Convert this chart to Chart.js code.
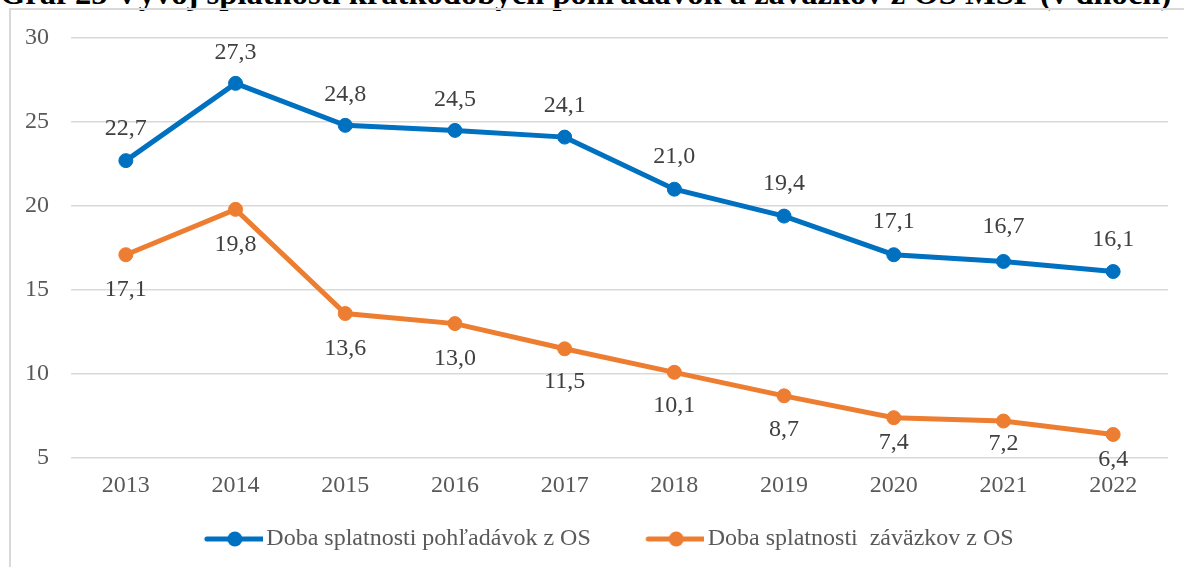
<!DOCTYPE html>
<html>
<head>
<meta charset="utf-8">
<script src="https://cdn.jsdelivr.net/npm/chart.js@4.4.0/dist/chart.umd.min.js"></script>
<style>
  html, body { margin: 0; padding: 0; background: #fff; overflow: hidden; }
  #wrap { position: relative; width: 1184px; height: 567px; overflow: hidden; }
  #title { position: absolute; left: 0; top: -23px; white-space: nowrap; font-family: 'Liberation Serif', serif; font-weight: bold; font-size: 29px; line-height: 1; color: #000; }
  #frame { position: absolute; left: 9px; top: 8px; width: 1400px; height: 800px; border-left: 2px solid #d9d9d9; border-top: 2px solid #d9d9d9; }
  canvas { position: absolute; left: 0; top: 0; }
</style>
</head>
<body>
<div id="wrap">
  <div id="title">Graf 25 Vývoj splatnosti krátkodobých pohľadávok a záväzkov z OS MSP (v dňoch)</div>
  <div id="frame"></div>
  <canvas id="c" width="1184" height="567"></canvas>
</div>
<script>
const years = ['2013','2014','2015','2016','2017','2018','2019','2020','2021','2022'];
const receivables = [22.7, 27.3, 24.8, 24.5, 24.1, 21.0, 19.4, 17.1, 16.7, 16.1];
const payables = [17.1, 19.8, 13.6, 13.0, 11.5, 10.1, 8.7, 7.4, 7.2, 6.4];
const seriesNames = ['Doba splatnosti pohľadávok z OS', 'Doba splatnosti  záväzkov z OS'];
const yTicks = [5, 10, 15, 20, 25, 30];

const BLUE = '#0070C0', ORANGE = '#ED7D31';
const FONT = "'Liberation Serif', serif";
const FS = 24;

// fit title width
(function(){
  const t = document.getElementById('title');
  const w = t.getBoundingClientRect().width;
  t.style.fontSize = (29 * 1172 / w) + 'px';
})();

function legendSymbol(color) {
  const c = document.createElement('canvas');
  c.width = 117; c.height = 18;
  const x = c.getContext('2d');
  x.strokeStyle = color; x.lineWidth = 5; x.lineCap = 'round';
  x.beginPath(); x.moveTo(61, 9); x.lineTo(117, 9); x.stroke();
  x.fillStyle = color;
  x.beginPath(); x.arc(89, 9, 7.5, 0, Math.PI * 2); x.fill();
  return c;
}
const legendImgs = [legendSymbol(BLUE), legendSymbol(ORANGE)];

// label placement (pixel offsets from the point; style, not data)
const labelStyle = {
  offsets: [
    [-32, -31, -31, -31, -31, -32, -32, -33, -35, -32],
    [35, 35, 35, 35, 33, 33, 34, 25, 23, 25]
  ]
};

const dataLabels = {
  id: 'dataLabels',
  afterDatasetsDraw(chart) {
    const ctx = chart.ctx;
    ctx.save();
    ctx.font = FS + 'px ' + FONT;
    ctx.fillStyle = '#404040';
    ctx.textAlign = 'center';
    ctx.textBaseline = 'middle';
    chart.data.datasets.forEach((ds, di) => {
      const meta = chart.getDatasetMeta(di);
      meta.data.forEach((pt, i) => {
        const txt = ds.data[i].toFixed(1).replace('.', ',');
        ctx.fillText(txt, pt.x, pt.y + labelStyle.offsets[di][i]);
      });
    });
    ctx.restore();
  }
};

new Chart(document.getElementById('c'), {
  type: 'line',
  data: {
    labels: years,
    datasets: [
      { label: seriesNames[0], data: receivables, borderColor: BLUE, backgroundColor: BLUE,
        borderWidth: 5, pointRadius: 7, pointBorderWidth: 1, pointHoverRadius: 7, tension: 0 },
      { label: seriesNames[1], data: payables, borderColor: ORANGE, backgroundColor: ORANGE,
        borderWidth: 5, pointRadius: 7, pointBorderWidth: 1, pointHoverRadius: 7, tension: 0 }
    ]
  },
  options: {
    responsive: false,
    animation: false,
    events: [],
    layout: { padding: { left: 0, right: 16, top: 38, bottom: 6 } },
    scales: {
      x: {
        offset: true,
        grid: { display: false, drawTicks: false },
        border: { display: false },
        ticks: { padding: 13, color: '#595959', font: { family: FONT, size: FS } },
        afterFit(s) { s.height = 64; }
      },
      y: {
        min: 5, max: 30,
        afterBuildTicks(s) { s.ticks = yTicks.map(v => ({ value: v })); },
        grid: { color: '#d9d9d9', lineWidth: 1.5, drawTicks: false },
        border: { display: false },
        ticks: { padding: 22, color: '#595959', font: { family: FONT, size: FS } },
        afterFit(s) { s.width = 71; }
      }
    },
    plugins: {
      tooltip: { enabled: false },
      legend: {
        position: 'bottom',
        labels: {
          usePointStyle: true,
          pointStyleWidth: 100,
          padding: 5,
          color: '#595959',
          font: { family: FONT, size: FS },
          generateLabels(chart) {
            return Chart.defaults.plugins.legend.labels.generateLabels(chart).map((l, i) => Object.assign(l, { pointStyle: legendImgs[i] }));
          }
        }
      }
    }
  },
  plugins: [dataLabels]
});
</script>
</body>
</html>
